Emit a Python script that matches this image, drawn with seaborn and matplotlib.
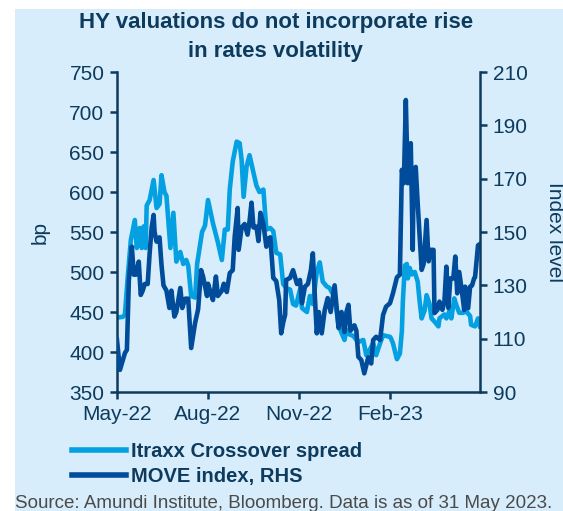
import pandas as pd
import matplotlib
matplotlib.use("Agg")
import matplotlib.pyplot as plt
import matplotlib.dates as mdates
from matplotlib.patches import Rectangle
from matplotlib.lines import Line2D
import seaborn as sns

# Itraxx Crossover spread (bp, left axis)
itraxx_dates = [
    "2022-05-01", "2022-05-07", "2022-05-09", "2022-05-12", "2022-05-15", "2022-05-19",
    "2022-05-21", "2022-05-24", "2022-05-26", "2022-05-28", "2022-05-30", "2022-05-31",
    "2022-06-03", "2022-06-07", "2022-06-10", "2022-06-13", "2022-06-15", "2022-06-18",
    "2022-06-20", "2022-06-24", "2022-06-27", "2022-06-30", "2022-07-04", "2022-07-07",
    "2022-07-10", "2022-07-12", "2022-07-15", "2022-07-19", "2022-07-21", "2022-07-26",
    "2022-07-29", "2022-08-01", "2022-08-06", "2022-08-11", "2022-08-15", "2022-08-18",
    "2022-08-21", "2022-08-23", "2022-08-26", "2022-08-30", "2022-09-02", "2022-09-04",
    "2022-09-06", "2022-09-09", "2022-09-12", "2022-09-16", "2022-09-19", "2022-09-22",
    "2022-09-26", "2022-09-29", "2022-10-03", "2022-10-06", "2022-10-09", "2022-10-13",
    "2022-10-16", "2022-10-19", "2022-10-23", "2022-10-26", "2022-10-29", "2022-11-02",
    "2022-11-04", "2022-11-09", "2022-11-12", "2022-11-15", "2022-11-19", "2022-11-22",
    "2022-11-25", "2022-11-29", "2022-12-02", "2022-12-04", "2022-12-07", "2022-12-11",
    "2022-12-14", "2022-12-17", "2022-12-19", "2022-12-22", "2022-12-26", "2022-12-29",
    "2023-01-01", "2023-01-05", "2023-01-08", "2023-01-12", "2023-01-15", "2023-01-18",
    "2023-01-22", "2023-01-25", "2023-01-28", "2023-02-01", "2023-02-02", "2023-02-04",
    "2023-02-06", "2023-02-08", "2023-02-11", "2023-02-13", "2023-02-14", "2023-02-16",
    "2023-02-18", "2023-02-19", "2023-02-21", "2023-02-23", "2023-02-26", "2023-03-01",
    "2023-03-03", "2023-03-05", "2023-03-08", "2023-03-10", "2023-03-13", "2023-03-15",
    "2023-03-18", "2023-03-22", "2023-03-23", "2023-03-28", "2023-03-30", "2023-04-02",
    "2023-04-04", "2023-04-07", "2023-04-09", "2023-04-12", "2023-04-16", "2023-04-19",
    "2023-04-23", "2023-04-24", "2023-04-28", "2023-05-01", "2023-05-03",
]
itraxx_bp = [
    443, 444, 447, 496, 540, 565, 530, 555, 530, 557, 530, 583,
    590, 615, 580, 585, 621, 600, 595, 530, 574, 513, 525, 510,
    515, 508, 470, 468, 510, 550, 558, 590, 561, 537, 515, 553,
    553, 603, 638, 663, 661, 640, 594, 632, 646, 624, 608, 600,
    603, 553, 555, 551, 524, 522, 485, 480, 478, 460, 458, 478,
    455, 450, 470, 460, 500, 512, 488, 482, 480, 475, 470, 433,
    424, 415, 428, 422, 420, 415, 413, 415, 396, 404, 411, 396,
    411, 421, 420, 419, 417, 411, 401, 391, 398, 426, 463, 508,
    510, 492, 505, 497, 500, 488, 463, 442, 452, 471, 460, 442,
    438, 432, 442, 447, 442, 451, 442, 467, 459, 449, 449, 451,
    445, 434, 432, 442, 432,
]

# MOVE index (right axis)
move_dates = [
    "2022-05-01", "2022-05-04", "2022-05-07", "2022-05-09", "2022-05-11", "2022-05-13",
    "2022-05-16", "2022-05-18", "2022-05-20", "2022-05-23", "2022-05-25", "2022-05-27",
    "2022-05-29", "2022-06-01", "2022-06-03", "2022-06-05", "2022-06-07", "2022-06-08",
    "2022-06-10", "2022-06-13", "2022-06-15", "2022-06-17", "2022-06-20", "2022-06-23",
    "2022-06-25", "2022-06-28", "2022-06-30", "2022-07-04", "2022-07-06", "2022-07-09",
    "2022-07-12", "2022-07-14", "2022-07-15", "2022-07-19", "2022-07-22", "2022-07-25",
    "2022-07-27", "2022-07-31", "2022-08-01", "2022-08-03", "2022-08-06", "2022-08-09",
    "2022-08-11", "2022-08-15", "2022-08-17", "2022-08-20", "2022-08-23", "2022-08-26",
    "2022-08-28", "2022-08-31", "2022-09-01", "2022-09-04", "2022-09-07", "2022-09-10",
    "2022-09-12", "2022-09-14", "2022-09-16", "2022-09-19", "2022-09-21", "2022-09-23",
    "2022-09-26", "2022-09-29", "2022-10-01", "2022-10-03", "2022-10-06", "2022-10-09",
    "2022-10-12", "2022-10-14", "2022-10-16", "2022-10-18", "2022-10-19", "2022-10-23",
    "2022-10-26", "2022-10-30", "2022-11-02", "2022-11-04", "2022-11-07", "2022-11-10",
    "2022-11-13", "2022-11-15", "2022-11-17", "2022-11-19", "2022-11-21", "2022-11-24",
    "2022-11-27", "2022-11-30", "2022-12-03", "2022-12-07", "2022-12-11", "2022-12-14",
    "2022-12-17", "2022-12-19", "2022-12-21", "2022-12-23", "2022-12-27", "2022-12-29",
    "2022-12-31", "2023-01-03", "2023-01-06", "2023-01-10", "2023-01-13", "2023-01-15",
    "2023-01-18", "2023-01-22", "2023-01-25", "2023-01-28", "2023-02-01", "2023-02-04",
    "2023-02-08", "2023-02-11", "2023-02-13", "2023-02-15", "2023-02-17", "2023-02-19",
    "2023-02-20", "2023-02-22", "2023-02-24", "2023-02-25", "2023-02-27", "2023-03-01",
    "2023-03-03", "2023-03-05", "2023-03-07", "2023-03-10", "2023-03-12", "2023-03-14",
    "2023-03-17", "2023-03-18", "2023-03-21", "2023-03-23", "2023-03-26", "2023-03-28",
    "2023-03-30", "2023-04-01", "2023-04-03", "2023-04-06", "2023-04-08", "2023-04-10",
    "2023-04-12", "2023-04-15", "2023-04-17", "2023-04-18", "2023-04-21", "2023-04-23",
    "2023-04-25", "2023-04-27", "2023-04-28", "2023-05-01", "2023-05-03",
]
move_index = [
    109.5, 98.3, 102, 104.6, 105.8, 132,
    144.5, 134, 134, 138.9, 126.4, 128,
    130.5, 130.5, 142, 151.5, 156.4, 150,
    146.4, 148, 137.6, 130, 128, 121.5,
    128, 118.3, 120, 129, 121.5, 125,
    125, 113, 106.5, 116, 121, 135.7,
    133.3, 126, 130.6, 128, 124.5, 133.3,
    126, 128, 130.6, 127.5, 134.6, 135.7,
    148.3, 159, 143.3, 151.7, 153, 149,
    154, 161, 151.7, 152, 146.6, 157.2,
    153, 144.5, 147.5, 148, 132.8, 131.6,
    124.5, 112, 116, 119, 132, 132.8,
    135.7, 130.5, 132, 123.3, 129.5, 130.5,
    135.7, 142, 126, 112, 120, 112,
    120.7, 125.2, 120, 130, 114, 120,
    112.5, 120, 122.7, 113, 115, 113,
    103.2, 102, 97, 103, 100.7, 109.5,
    110.7, 109.5, 118.9, 122, 123.3, 127,
    133, 134, 173.3, 168.3, 199.5, 168.3,
    169.5, 183.3, 143.3, 173.3, 174.4, 160.8,
    148.3, 135.8, 138, 154.5, 139, 143.3,
    143.3, 119.6, 120.8, 123.9, 120.8, 123.9,
    137, 121.5, 132.6, 132.6, 140.8, 127,
    135, 127, 120.8, 129.5, 121.4, 129.5,
    130, 132.6, 133, 145, 145.5,
]

tick_dates = ["2022-05-01", "2022-08-01", "2022-11-01", "2023-02-01"]
left_ticks = [350, 400, 450, 500, 550, 600, 650, 700, 750]
right_ticks = [90, 110, 130, 150, 170, 190, 210]

itraxx = pd.DataFrame({"date": pd.to_datetime(itraxx_dates), "value": itraxx_bp})
move = pd.DataFrame({"date": pd.to_datetime(move_dates), "value": move_index})

BG = "#D7EDFB"
NAVY = "#0D3B5E"
LIGHT = "#04A0E2"
DARK = "#004C9A"

plt.rcParams["font.family"] = ["Liberation Sans", "DejaVu Sans"]

fig = plt.figure(figsize=(5.63, 5.11), dpi=100)
fig.patch.set_facecolor("white")
fig.add_artist(Rectangle((15 / 563, 0), 1 - 15 / 563, 502 / 511,
                         transform=fig.transFigure, facecolor=BG,
                         edgecolor="none", zorder=0))

ax = fig.add_axes([117 / 563, 119 / 511, 363 / 563, 320 / 511])
ax.set_facecolor("none")
ax2 = ax.twinx()
ax2.set_facecolor("none")

sns.lineplot(data=itraxx, x="date", y="value", ax=ax, color=LIGHT, linewidth=3.3)
sns.lineplot(data=move, x="date", y="value", ax=ax2, color=DARK, linewidth=3.3)

ax.set_ylim(350, 750)
ax2.set_ylim(90, 210)
ax.set_yticks(left_ticks)
ax2.set_yticks(right_ticks)
ax.set_xlim(pd.Timestamp("2022-05-01"), pd.Timestamp("2023-05-03"))
ax.set_xticks(pd.to_datetime(tick_dates))
ax.xaxis.set_major_formatter(mdates.DateFormatter("%b-%y"))

for a in (ax, ax2):
    a.spines["top"].set_visible(False)
    for s in ("left", "right", "bottom"):
        a.spines[s].set_color(NAVY)
        a.spines[s].set_linewidth(1.8)
    a.tick_params(colors=NAVY, labelsize=15, width=1.8, length=5, direction="out", pad=4)
    a.grid(False)
ax.spines["right"].set_visible(False)
ax2.spines["left"].set_visible(False)
ax2.spines["bottom"].set_visible(False)

ax.set_xlabel("")
ax.set_ylabel("bp", fontsize=15, color=NAVY, labelpad=14)
ax2.set_ylabel("Index level", fontsize=15, color=NAVY, rotation=270, labelpad=26)

fig.text(0.49, 1 - 37 / 511, "HY valuations do not incorporate rise\nin rates volatility",
         ha="center", va="center", fontsize=16, fontweight="bold", color=NAVY,
         linespacing=1.45)

handles = [Line2D([], [], color=LIGHT, linewidth=4),
           Line2D([], [], color=DARK, linewidth=4)]
fig.legend(handles, ["Itraxx Crossover spread", "MOVE index, RHS"],
           loc="upper left", bbox_to_anchor=(62 / 563, 1 - 432 / 511),
           frameon=False, borderpad=0, handlelength=2.7, handletextpad=0.25,
           labelspacing=0.3, prop={"weight": "bold", "size": 14.5},
           labelcolor=NAVY)

fig.text(15 / 563, 1 - 503 / 511,
         "Source: Amundi Institute, Bloomberg. Data is as of 31 May 2023.",
         ha="left", va="center", fontsize=13.5, color="#4A4A4A")

fig.savefig("out.png", dpi=100)
